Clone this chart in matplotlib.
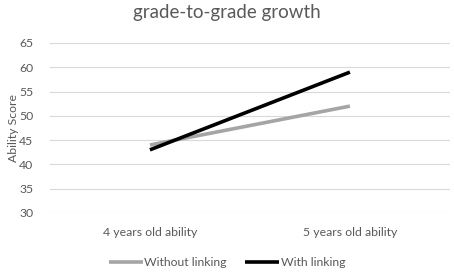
import matplotlib
matplotlib.use("Agg")
import matplotlib.pyplot as plt

categories = ["4 years old ability", "5 years old ability"]
without_linking = [44, 52]
with_linking = [43, 59]
yticks = [30, 35, 40, 45, 50, 55, 60, 65]

plt.rcParams['font.family'] = ['Lato', 'DejaVu Sans']
txt = '#595959'

fig = plt.figure(figsize=(4.54, 2.72), dpi=100)
ax = fig.add_axes([0.110, 0.217, 0.881, 0.625])

x = range(len(categories))
ax.plot(x, without_linking, color='#a5a5a5', lw=2.6, label='Without linking', solid_capstyle='butt')
ax.plot(x, with_linking, color='black', lw=2.6, label='With linking', solid_capstyle='butt')

ax.set_xlim(-0.5, 1.5)
ax.set_ylim(30, 65)
ax.set_yticks(yticks)
ax.set_xticks(list(x))
ax.set_xticklabels(categories)
ax.grid(axis='y', color='#d9d9d9', lw=0.8)
ax.set_axisbelow(True)
for s in ax.spines.values():
    s.set_visible(False)
ax.tick_params(length=0, labelsize=8.8, labelcolor=txt)
ax.tick_params(axis='x', pad=10)
ax.tick_params(axis='y', pad=12)
ax.set_ylabel('Ability Score', fontsize=8.8, color=txt, labelpad=0)

fig.text(0.5, 0.955, 'grade-to-grade growth', ha='center', va='center', fontsize=13.5, color=txt)
fig.legend(loc='center', bbox_to_anchor=(0.5, 0.035), ncol=2, frameon=False,
           fontsize=8.8, labelcolor=txt, handlelength=2.8, handletextpad=0.1, columnspacing=1.5)

fig.savefig('out.png', dpi=100)
